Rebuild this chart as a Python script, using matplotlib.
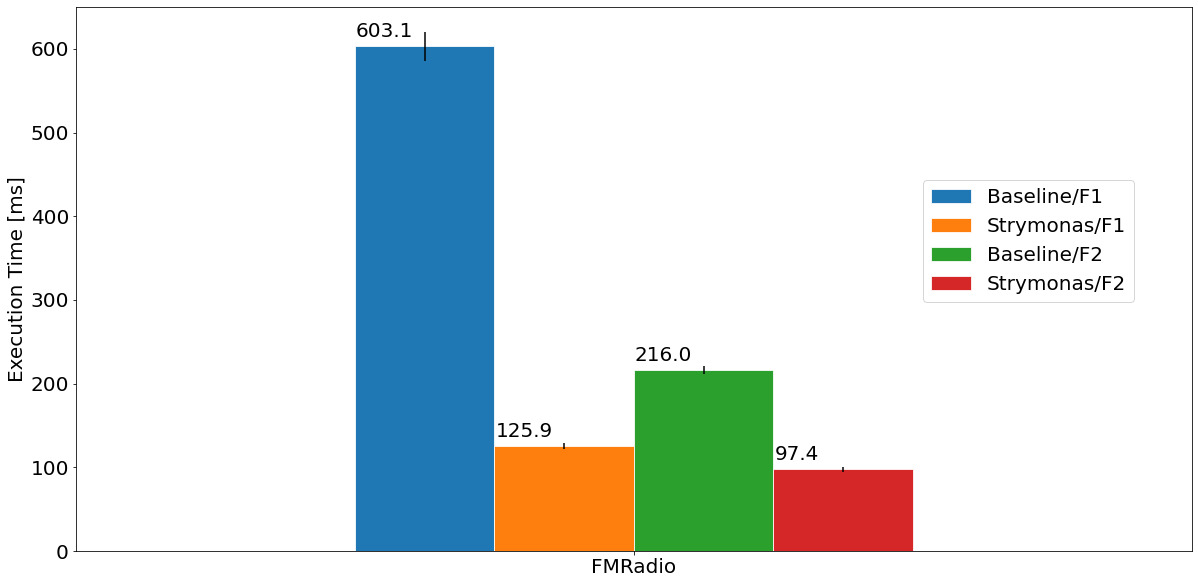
import numpy as np
import matplotlib.pyplot as plt

benchmarks = ['FMRadio']
series = ['Baseline/F1', 'Strymonas/F1', 'Baseline/F2', 'Strymonas/F2']
values = [603.1, 125.9, 216.0, 97.4]
errors = [17.5, 3.5, 5.0, 3.0]
colors = ['#1f77b4', '#ff7f0e', '#2ca02c', '#d62728']

plt.rcParams['font.size'] = 20

fig, ax = plt.subplots(figsize=(1198 / 72, 584 / 72), dpi=72)
plt.subplots_adjust(left=0.0634, right=0.995, top=0.988, bottom=0.0565)

width = 0.5 / len(series)
x = np.arange(len(benchmarks))
for i, name in enumerate(series):
    pos = x - 0.25 + width * (i + 0.5)
    bars = ax.bar(pos, [values[i]], width, yerr=[errors[i]], color=colors[i],
                  edgecolor='white', linewidth=0.8, label=name,
                  error_kw=dict(ecolor='black', elinewidth=1.5, capsize=0))
    for p in bars:
        ax.annotate('%.1f' % p.get_height(), (p.get_x(), p.get_height()),
                    xytext=(1, 5), textcoords='offset points',
                    ha='left', va='bottom')

ax.set_xlim(-0.5, 0.5)
ax.set_ylim(0, 650)
ax.set_xticks(x)
ax.set_xticklabels(benchmarks, rotation=0)
ax.set_ylabel('Execution Time [ms]')
ax.legend(loc='center right', bbox_to_anchor=(0.957, 0.57))

plt.savefig('out.png', dpi=72)
